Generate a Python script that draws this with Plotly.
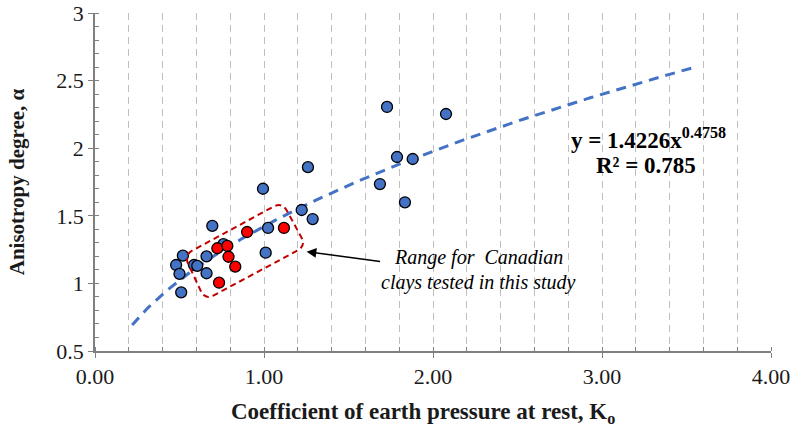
import numpy as np
import plotly.graph_objects as go

# ---- data ----
blue_x = [0.694, 0.52, 0.48, 0.50, 0.51, 0.586, 0.605, 0.66, 0.66, 0.76, 1.01, 1.024,
          1.223, 1.288, 1.728, 2.077, 1.26, 0.994, 1.787, 1.88, 1.686, 1.834]
blue_y = [1.425, 1.205, 1.136, 1.07, 0.934, 1.136, 1.13, 1.20, 1.075, 1.29, 1.227, 1.41,
          1.543, 1.476, 2.305, 2.253, 1.86, 1.70, 1.935, 1.92, 1.735, 1.60]
red_x = [0.90, 1.118, 0.724, 0.783, 0.79, 0.83, 0.734]
red_y = [1.38, 1.41, 1.26, 1.277, 1.197, 1.124, 1.005]

# power trendline stated on the chart: y = 1.4226 x^0.4758
TREND_A = 1.4226
TREND_B = 0.4758
TREND_X_START = 0.22
TREND_X_END = 3.55

x_ticks = [0, 1, 2, 3, 4]
x_tick_text = ["0.00", "1.00", "2.00", "3.00", "4.00"]
y_ticks = [0.5, 1, 1.5, 2, 2.5, 3]
y_tick_text = ["0.5", "1", "1.5", "2", "2.5", "3"]

# corners of the dashed "range" box (data units): TL, TR, BR, BL
box_corners = [(0.527, 1.210), (1.107, 1.602), (1.249, 1.277), (0.651, 0.877)]

SERIF = "Liberation Serif, Times New Roman, serif"
BLUE = "#4472C4"

tx = np.linspace(TREND_X_START, TREND_X_END, 200)
ty = TREND_A * tx ** TREND_B

fig = go.Figure()
fig.add_trace(go.Scatter(x=tx, y=ty, mode="lines",
                         line=dict(color=BLUE, width=3, dash="10px,7px"),
                         hoverinfo="skip", showlegend=False))
fig.add_trace(go.Scatter(x=blue_x, y=blue_y, mode="markers",
                         marker=dict(size=11, color=BLUE, line=dict(color="black", width=1.3)),
                         showlegend=False))
fig.add_trace(go.Scatter(x=red_x, y=red_y, mode="markers",
                         marker=dict(size=11, color="#FF0000", line=dict(color="black", width=1.3)),
                         showlegend=False))

# rounded rotated rectangle path (rounding computed in pixel-like space)
PXX, PXY = 169.0, 135.2  # approximate pixels per unit


def to_px(p):
    return np.array([p[0] * PXX, p[1] * PXY])


def to_data(q):
    return (q[0] / PXX, q[1] / PXY)


R = 10.0
pts = [to_px(p) for p in box_corners]
n = len(pts)
path = ""
for i in range(n):
    P = pts[i]
    A = pts[i - 1]
    B = pts[(i + 1) % n]
    a = to_data(P + R * (A - P) / np.linalg.norm(A - P))
    b = to_data(P + R * (B - P) / np.linalg.norm(B - P))
    Pd = to_data(P)
    path += ("M" if i == 0 else "L") + f"{a[0]:.4f},{a[1]:.4f} "
    path += f"Q{Pd[0]:.4f},{Pd[1]:.4f} {b[0]:.4f},{b[1]:.4f} "
path += "Z"
fig.add_shape(type="path", path=path, xref="x", yref="y",
              line=dict(color="#C00000", width=2, dash="6px,4px"))


# annotations
def note(x, y, text, size):
    fig.add_annotation(xref="paper", yref="paper", x=x, y=y, text=text,
                       showarrow=False, xanchor="center", yanchor="middle",
                       font=dict(family=SERIF, size=size, color="black"))


note(0.8195, 0.630, "<b>y = 1.4226x<sup>0.4758</sup></b>", 23)
note(0.815, 0.550, "<b>R² = 0.785</b>", 23)
note(0.568, 0.278, "<i>Range for  Canadian</i>", 20)
note(0.568, 0.204, "<i>clays tested in this study</i>", 20)
fig.add_annotation(xref="paper", yref="paper", x=0.313, y=0.294, text="",
                   showarrow=True, ax=75, ay=10, arrowhead=2, arrowsize=1.3,
                   arrowwidth=1.5, arrowcolor="black", standoff=0)
# x-axis title (placed as an annotation to match its off-centre position)
fig.add_annotation(xref="paper", yref="paper", x=0.485, y=-0.183,
                   text="<b>Coefficient of earth pressure at rest, K<sub>o</sub></b>",
                   showarrow=False, xanchor="center", yanchor="middle",
                   font=dict(family=SERIF, size=23, color="#1a1a1a"))

GRID = "#BFBFBF"
AXIS = "#808080"
fig.update_layout(
    width=791, height=433,
    margin=dict(l=95, r=20, t=13, b=82, autoexpand=False),
    paper_bgcolor="white", plot_bgcolor="white",
    font=dict(family=SERIF, size=22, color="#1a1a1a"),
    xaxis=dict(range=[0, 4], tickvals=x_ticks, ticktext=x_tick_text, automargin=False,
               ticklabeloverflow="allow",
               showline=True, linecolor=AXIS, linewidth=1.5,
               ticks="outside", ticklen=5, tickcolor=AXIS, tickwidth=1.2,
               showgrid=True, gridcolor=GRID, gridwidth=1, griddash="7px,5px",
               zeroline=False,
               minor=dict(dtick=0.2, ticks="inside", ticklen=4, tickcolor=AXIS,
                          showgrid=True, gridcolor=GRID, gridwidth=1, griddash="7px,5px"),
               tickfont=dict(family=SERIF, size=22, color="#1a1a1a")),
    yaxis=dict(range=[0.5, 3], tickvals=y_ticks, ticktext=y_tick_text, automargin=False,
               ticklabeloverflow="allow",
               showline=True, linecolor=AXIS, linewidth=1.5,
               ticks="outside", ticklen=5, tickcolor=AXIS, tickwidth=1.2,
               showgrid=False, zeroline=False,
               minor=dict(dtick=0.1, ticks="inside", ticklen=4, tickcolor=AXIS, showgrid=False),
               title=dict(text="<b>Anisotropy degree, α</b>",
                          font=dict(family=SERIF, size=21, color="#1a1a1a"), standoff=26),
               tickfont=dict(family=SERIF, size=22, color="#1a1a1a")),
)

# remove the browser's default 8px body margin so the figure fills the window
fig.write_html("out.html", config={"displayModeBar": False},
               post_script="document.body.style.margin='0';document.body.style.overflow='hidden';")
